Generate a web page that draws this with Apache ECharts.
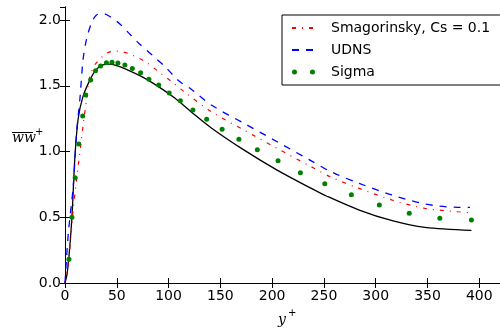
<!DOCTYPE html>
<html>
<head>
<meta charset="utf-8">
<script src="https://cdn.jsdelivr.net/npm/echarts@6/dist/echarts.min.js"></script>
<style>html,body{margin:0;padding:0;background:#fff}#c{width:500px;height:328px}</style>
</head>
<body>
<div id="c"></div>
<script>
// ---- data ----
const xTicks = [0, 50, 100, 150, 200, 250, 300, 350, 400];
const yTicks = [0.0, 0.5, 1.0, 1.5, 2.0];

const dnsX = [0, 2, 3.8, 6.7, 9.5, 12.7, 17.4, 23.8, 30.2, 36.5, 42.9, 49.2, 58.7, 74.6, 90.5, 106.3, 122.2, 141.3, 173, 204.8, 239.7, 252.4, 284.1, 315.9, 347.6, 392.4];
const dnsY = [0, 0.07, 0.2, 0.5, 0.95, 1.25, 1.42, 1.54, 1.625, 1.66, 1.665, 1.655, 1.628, 1.568, 1.492, 1.405, 1.3, 1.18, 1.011, 0.859, 0.712, 0.662, 0.555, 0.474, 0.423, 0.40];

const smagName = 'Smagorinsky, Cs = 0.1';
const smagX = [0, 1.6, 4.8, 7.9, 11.1, 15, 18.1, 20.6, 23.8, 28.6, 33.3, 39.7, 47.6, 55.5, 65, 77.8, 90.5, 103.1, 115.9, 141.3, 173, 204.8, 236.5, 257, 284, 316, 347.6, 379.4, 391];
const smagY = [0, 0.076, 0.276, 0.555, 0.783, 1.037, 1.24, 1.379, 1.569, 1.658, 1.70, 1.747, 1.764, 1.759, 1.734, 1.683, 1.607, 1.531, 1.45, 1.303, 1.163, 1.024, 0.89, 0.805, 0.72, 0.631, 0.568, 0.542, 0.535];

const udnsName = 'UDNS';
const udnsX = [0, 3.2, 7.9, 11.1, 14.3, 17.4, 20.6, 25.4, 30.2, 36.5, 42.9, 52.4, 61.9, 71.4, 84.1, 96.8, 109.5, 122.2, 141.3, 173, 204.8, 236.5, 257, 284, 316, 347.6, 379.4, 391];
const udnsY = [0, 0.378, 0.732, 1.138, 1.39, 1.696, 1.848, 1.975, 2.038, 2.051, 2.03, 1.975, 1.899, 1.823, 1.734, 1.645, 1.54, 1.473, 1.354, 1.214, 1.075, 0.935, 0.846, 0.758, 0.669, 0.601, 0.576, 0.576];

const sigmaName = 'Sigma';
const sigmaX = [3.8, 6.7, 9.8, 13.3, 17.1, 20, 24.8, 29.5, 34.3, 40, 45.4, 51.1, 57.8, 65, 73, 81, 90.5, 100.6, 111.4, 123.5, 136.8, 151.7, 167.9, 185.7, 205.7, 227.3, 250.8, 276.5, 303.5, 332.4, 361.9, 392.4];
const sigmaY = [0.18, 0.50, 0.80, 1.057, 1.27, 1.43, 1.544, 1.614, 1.652, 1.675, 1.68, 1.673, 1.658, 1.633, 1.599, 1.551, 1.506, 1.445, 1.386, 1.316, 1.245, 1.169, 1.093, 1.014, 0.93, 0.839, 0.755, 0.672, 0.593, 0.53, 0.492, 0.479];

const zip = (xs, ys) => xs.map((x, i) => [x, ys[i]]);

const chart = echarts.init(document.getElementById('c'), null, {renderer: 'canvas'});
const tickFont = {fontFamily: 'DejaVu Sans', fontSize: 14, color: '#000'};
const axisCommon = {
  axisLine: {show: true, lineStyle: {color: '#000', width: 1}},
  axisTick: {show: true, inside: true, length: 5, lineStyle: {color: '#000', width: 1}},
  splitLine: {show: false}
};
const hiddenSymbol = {color: 'rgba(0,0,0,0)', borderColor: 'rgba(0,0,0,0)', borderWidth: 0, opacity: 0};
chart.setOption({
  animation: false,
  backgroundColor: '#fff',
  grid: {left: 65, top: 7, bottom: 45, right: -6, containLabel: false},
  xAxis: [
    Object.assign({type: 'value', position: 'bottom', min: 0, max: 420, interval: 50,
      axisLabel: Object.assign({margin: 6, showMaxLabel: false,
        formatter: v => xTicks.includes(v) ? String(v) : ''}, tickFont)}, axisCommon),
    Object.assign({type: 'value', position: 'top', min: 0, max: 420, interval: 50,
      axisLabel: {show: false}}, axisCommon)
  ],
  yAxis: [
    Object.assign({type: 'value', position: 'left', min: 0, max: 2.1, interval: 0.5,
      axisLabel: Object.assign({margin: 4, showMaxLabel: false,
        formatter: v => yTicks.includes(v) ? v.toFixed(1) : ''}, tickFont)}, axisCommon),
    Object.assign({type: 'value', position: 'right', min: 0, max: 2.1, interval: 0.5,
      axisLabel: {show: false}}, axisCommon)
  ],
  legend: {
    orient: 'vertical', left: 282, top: 15,
    padding: [6, 40, 6, 9],
    itemWidth: 23, itemHeight: 14, itemGap: 8,
    backgroundColor: '#fff', borderColor: '#000', borderWidth: 1, borderRadius: 0,
    selectedMode: false,
    textStyle: {fontFamily: 'DejaVu Sans', fontSize: 14, color: '#000', padding: [0, 0, 0, 11]},
    data: [
      {name: smagName, itemStyle: hiddenSymbol},
      {name: udnsName, itemStyle: hiddenSymbol},
      {name: sigmaName, icon: 'path://M0,2.5a2.5,2.5 0 1,0 5,0a2.5,2.5 0 1,0 -5,0zM18,2.5a2.5,2.5 0 1,0 5,0a2.5,2.5 0 1,0 -5,0z'}
    ]
  },
  graphic: [
    {type: 'text', left: 12, top: 131, style: {text: 'ww', font: 'italic 14px "DejaVu Serif"', fill: '#000'}},
    {type: 'line', shape: {x1: 12, y1: 132.5, x2: 33, y2: 132.5}, style: {stroke: '#000', lineWidth: 1}},
    {type: 'text', left: 35, top: 127, style: {text: '+', font: '10px "DejaVu Sans"', fill: '#000'}},
    {type: 'text', left: 278, top: 313, style: {text: 'y', font: 'italic 14px "DejaVu Serif"', fill: '#000'}},
    {type: 'text', left: 288, top: 308, style: {text: '+', font: '10px "DejaVu Sans"', fill: '#000'}}
  ],
  series: [
    {name: 'DNS', type: 'line', data: zip(dnsX, dnsY), symbol: 'none', smooth: 0.3,
      lineStyle: {color: '#000', width: 1.3}, itemStyle: {color: '#000'}, z: 2},
    {name: smagName, type: 'line', data: zip(smagX, smagY), symbol: 'none', smooth: 0.3,
      lineStyle: {color: '#ff0000', width: 1.2, type: [4, 6, 1, 6]}, itemStyle: {color: '#ff0000'}, z: 3},
    {name: udnsName, type: 'line', data: zip(udnsX, udnsY), symbol: 'none', smooth: 0.3,
      lineStyle: {color: '#0000ff', width: 1.3, type: [7, 7]}, itemStyle: {color: '#0000ff'}, z: 3},
    {name: sigmaName, type: 'scatter', data: zip(sigmaX, sigmaY), symbol: 'circle', symbolSize: 5,
      itemStyle: {color: '#008000', opacity: 1}, z: 4}
  ]
});
</script>
</body>
</html>
